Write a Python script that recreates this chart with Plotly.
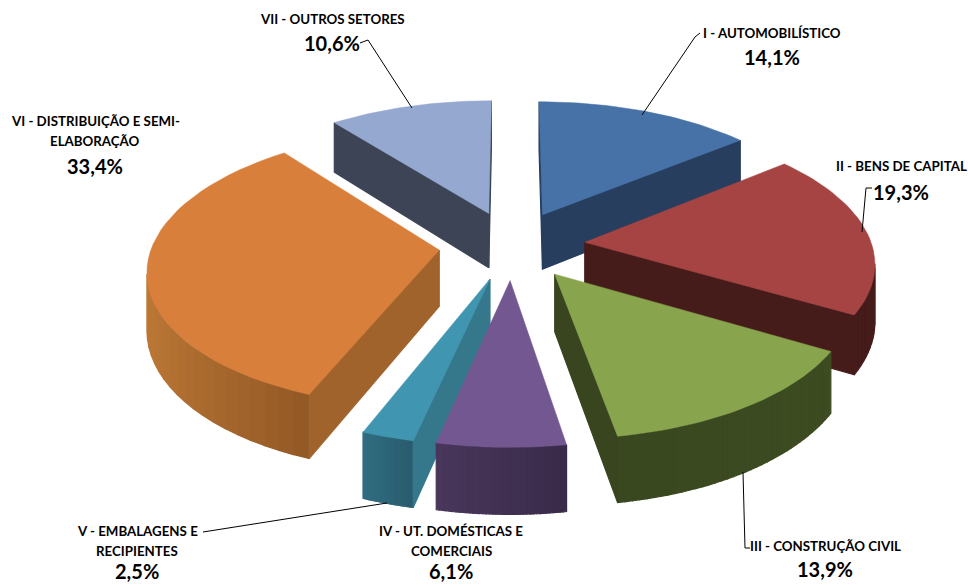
import numpy as np
import plotly.graph_objects as go

# Data
categories = ["I - AUTOMOBILÍSTICO", "II - BENS DE CAPITAL", "III - CONSTRUÇÃO CIVIL",
              "IV - UT. DOMÉSTICAS E COMERCIAIS", "V - EMBALAGENS E RECIPIENTES",
              "VI - DISTRIBUIÇÃO E SEMI-ELABORAÇÃO", "VII - OUTROS SETORES"]
values = [14.1, 19.3, 13.9, 6.1, 2.5, 33.4, 10.6]
value_labels = ["14,1%", "19,3%", "13,9%", "6,1%", "2,5%", "33,4%", "10,6%"]
label_lines = [["I - AUTOMOBILÍSTICO"], ["II - BENS DE CAPITAL"], ["III - CONSTRUÇÃO CIVIL"],
               ["IV - UT. DOMÉSTICAS E", "COMERCIAIS"], ["V - EMBALAGENS E", "RECIPIENTES"],
               ["VI - DISTRIBUIÇÃO E SEMI-", "ELABORAÇÃO"], ["VII - OUTROS SETORES"]]

# Styles
top_colors = ["#4672A8", "#A54442", "#88A54E", "#735790", "#4096B0", "#D87F3C", "#94A8D0"]
side_colors = ["#273E5F", "#451C1A", "#38451F", "#3F2F55", "#35788C", "#A0632B", "#3D4456"]
arc_left = [(39, 62, 95), (69, 28, 26), (58, 72, 32), (74, 55, 92), (50, 110, 130), (190, 122, 55), (61, 68, 86)]
arc_right = [(39, 62, 95), (69, 28, 26), (62, 76, 34), (58, 43, 74), (42, 92, 110), (148, 90, 38), (61, 68, 86)]
label_x = [772, 901, 825, 451, 137, 95, 332]
label_y = [33, 166, 546, 531, 531, 121, 19]
pct_y = [57, 192, 569, 571, 571, 166, 43]
leaders = [[(642, 115), (695, 37), (700, 33)], [(862, 232), (866, 188), (872, 188)],
           [(743, 472), (745, 548), (750, 548)], [(387, 503), (203, 532)],
           [(412, 108), (368, 40), (360, 43)]]

# Projection settings
CX, CY, R, K, P, H, EXPLODE = 512, 245, 287, 135, 0.13, 56, 0.255


def project(X, Y, drop=0.0):
    s = 1 / (1 + P * np.asarray(Y))
    return CX + R * np.asarray(X) * s, CY - K * np.asarray(Y) * s + drop * s


def area(x, y):
    return 0.5 * np.sum(x * np.roll(y, -1) - np.roll(x, -1) * y)


fig = go.Figure()


def poly(x, y, color, name=None, width=0.5):
    fig.add_trace(go.Scatter(x=list(x) + [x[0]], y=list(y) + [y[0]], mode="lines", fill="toself",
                             fillcolor=color, line=dict(color=color, width=width), showlegend=False,
                             hoverinfo="text" if name else "skip", text=name, hoveron="fills"))


def wall(X, Y, color):
    x1, y1 = project(X, Y)
    x2, y2 = project(X, Y, H)
    x = np.r_[x1, x2[::-1]]
    y = np.r_[y1, y2[::-1]]
    if area(x, y) < 0:
        poly(x, y, color, width=1.2)


fractions = np.array(values) / sum(values) * 2 * np.pi
ends = np.cumsum(fractions)
starts = ends - fractions
mids = (starts + ends) / 2
order = np.argsort([-np.cos(m) for m in mids])  # back to front

for i in order:
    ox, oy = EXPLODE * np.sin(mids[i]), EXPLODE * np.cos(mids[i])
    th = np.linspace(starts[i], ends[i], 40)
    ax, ay = ox + np.sin(th), oy + np.cos(th)
    # curved wall, shaded left to right
    for j in range(len(th) - 1):
        t = (ax[j] - ax.min()) / max(ax.max() - ax.min(), 1e-6)
        c = [int(a + (b - a) * t) for a, b in zip(arc_left[i], arc_right[i])]
        wall(ax[j:j + 2], ay[j:j + 2], f"rgb({c[0]},{c[1]},{c[2]})")
    # radial walls (winding: tip -> rim of start, rim of end -> tip)
    wall(np.array([ox, ax[0]]), np.array([oy, ay[0]]), side_colors[i])
    wall(np.array([ax[-1], ox]), np.array([ay[-1], oy]), side_colors[i])
    x, y = project(np.r_[ox, ax], np.r_[oy, ay])
    poly(x, y, top_colors[i], f"{categories[i]}: {value_labels[i]}")

for pts in leaders:
    fig.add_trace(go.Scatter(x=[p[0] for p in pts], y=[p[1] for p in pts], mode="lines",
                             line=dict(color="black", width=1), showlegend=False, hoverinfo="skip"))

FONT = "Lato, Carlito, 'Open Sans', sans-serif"
for i, lines in enumerate(label_lines):
    for n, t in enumerate(lines):
        fig.add_annotation(x=label_x[i], y=label_y[i] + 20 * n, text=f"<b>{t}</b>", showarrow=False,
                           font=dict(family=FONT, size=13.3, color="black"), xanchor="center", yanchor="middle")
    fig.add_annotation(x=label_x[i], y=pct_y[i], text=f"<b>{value_labels[i]}</b>", showarrow=False,
                       font=dict(family=FONT, size=20, color="black"), xanchor="center", yanchor="middle")

fig.update_layout(width=968, height=585, margin=dict(l=0, r=0, t=0, b=0), paper_bgcolor="white",
                  plot_bgcolor="white", showlegend=False,
                  xaxis=dict(range=[0, 968], visible=False, fixedrange=True),
                  yaxis=dict(range=[585, 0], visible=False, fixedrange=True))
fig.write_html("out.html", config={"displayModeBar": False},
               post_script="document.body.style.margin='0';document.documentElement.style.overflow='hidden';")
